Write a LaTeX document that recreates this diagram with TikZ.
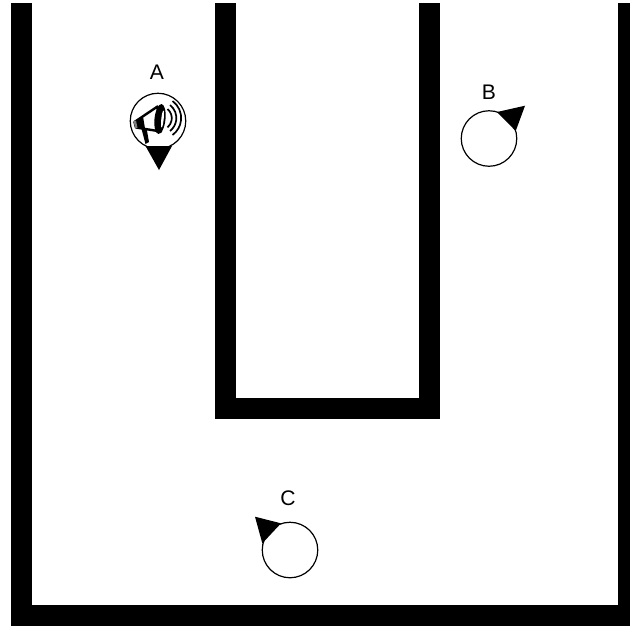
\documentclass[tikz,border=0pt]{standalone}
\usepackage{fontspec}
\setmainfont{Liberation Sans}
\usetikzlibrary{calc}
\tikzset{
    wall/.style={line width=0.21cm, line cap=butt, line join=miter},
    robot/.style={draw, circle, fill=white, line width=0.012cm, minimum size=0.555cm, inner sep=0pt},
    robotname/.style={font=\fontsize{6}{7}\selectfont, inner sep=0pt},
    waves/.style={line width=0.017cm}
}

\begin{document}
\begin{tikzpicture}
\useasboundingbox (0,0) rectangle (6.30,6.25);

% Walls
\draw[wall] (0.21,6.22) -- (0.21,0.10) -- (6.28,0.10) -- (6.28,6.22);
\draw[wall] (2.255,6.22) -- (2.255,2.165) -- (4.295,2.165) -- (4.295,6.22);

% Robots
\node[robot] (robotA) at (1.58,5.04) {};
\node[robot] (robotB) at (4.89,4.865) {};
\node[robot] (robotC) at (2.90,0.75) {};

% Headings
\fill (1.455,4.79) -- (1.72,4.79) -- (1.59,4.55) -- cycle;
\fill (4.97,5.13) -- (5.25,5.193) -- (5.157,4.94) -- cycle;
\fill (2.55,1.083) -- (2.81,1.017) -- (2.623,0.817) -- cycle;

% Names
\node[robotname] (nameA) at (1.57,5.53) {A};
\node[robotname] (nameB) at (4.89,5.33) {B};
\node[robotname] (nameC) at (2.88,1.27) {C};

% Megaphone
\fill (1.41,4.98) -- (1.465,4.97) -- (1.49,4.83) -- (1.455,4.81) -- cycle;
\draw[fill=white, line width=0.024cm, line join=round] (1.345,5.03) -- (1.575,5.185) -- (1.61,4.935) -- (1.36,4.975) -- cycle;
\fill (1.345,5.03) -- (1.43,5.085) -- (1.45,4.965) -- (1.36,4.975) -- cycle;
\fill[gray] (1.335,5.035) -- (1.355,4.965) -- (1.375,4.97) -- (1.36,5.045) -- cycle;
\fill[rotate around={-6:(1.60,5.06)}] (1.60,5.06) ellipse (0.055 and 0.15);
\fill[white, rotate around={-6:(1.625,5.06)}] (1.625,5.06) ellipse (0.012 and 0.085);
\draw[waves] (1.675,5.16) arc (50:-50:0.12);
\draw[waves] (1.70,5.20) arc (52:-52:0.165);
\draw[waves] (1.725,5.24) arc (54:-54:0.21);

\end{tikzpicture}
\end{document}
